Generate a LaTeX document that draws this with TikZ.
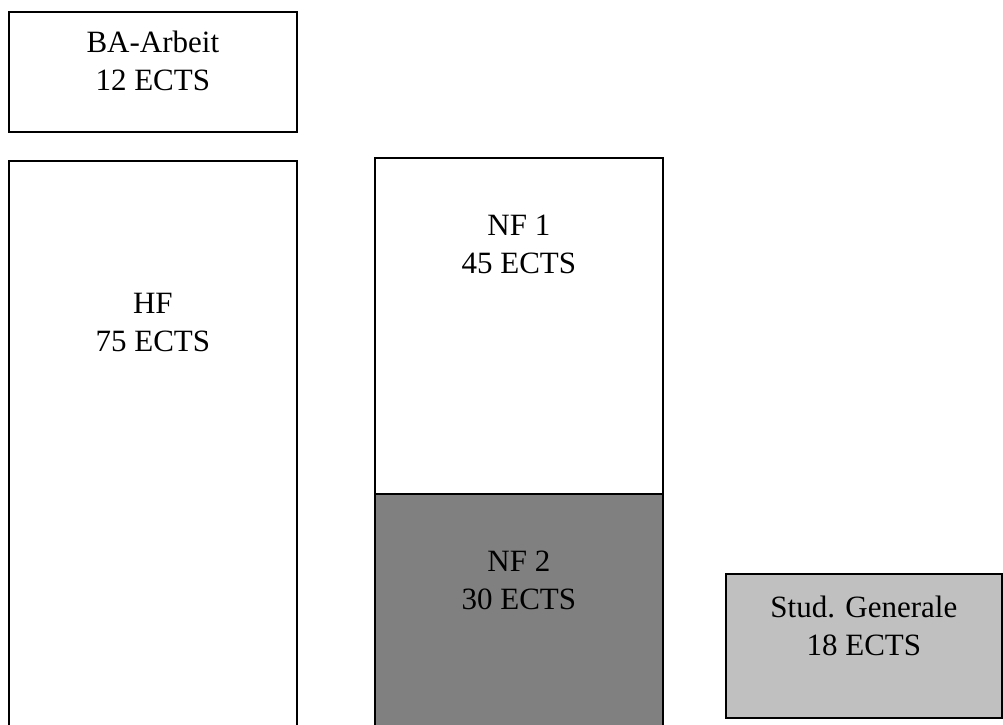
\documentclass[tikz,border=0pt]{standalone}
\usepackage{fontspec}
\setmainfont{Liberation Serif}
\usepackage{xcolor}
\usepackage{tikz}
\usetikzlibrary{positioning}
\definecolor{nftwogray}{HTML}{808080}
\definecolor{studgray}{HTML}{C0C0C0}

\begin{document}
\begin{tikzpicture}[
  x=1pt, y=1pt,
  box/.style={rectangle, draw=black, line width=1.7pt, anchor=north west, inner sep=0pt},
  txt/.style={align=center, inner sep=0pt, font=\fontsize{31}{37.5}\selectfont}
]
\useasboundingbox (0,0) rectangle (1003,-724);
\clip (0,0) rectangle (1003,-724);

% boxes
\node[box, minimum width=288pt, minimum height=120pt] (ba) at (8,-11) {};
\node[box, minimum width=288pt, minimum height=590pt] (hf) at (8,-160) {};
\node[box, minimum width=288pt, minimum height=336pt] (nfa) at (374,-157) {};
\node[box, fill=nftwogray, minimum width=288pt, minimum height=250pt] (nfb) at (374,-493) {};
\node[box, fill=studgray, minimum width=276pt, minimum height=144pt] (sg) at (725,-573) {};

% texts
\node[txt, below=20pt of ba.north] (batxt) {BA-Arbeit\\12 ECTS};
\node[txt, below=133pt of hf.north] (hftxt) {HF\\75 ECTS};
\node[txt, below=58pt of nfa.north] (nfatxt) {NF 1\\45 ECTS};
\node[txt, below=58pt of nfb.north] (nfbtxt) {NF 2\\30 ECTS};
\node[txt, below=23pt of sg.north] (sgtxt) {Stud. Generale\\18 ECTS};

\end{tikzpicture}
\end{document}
